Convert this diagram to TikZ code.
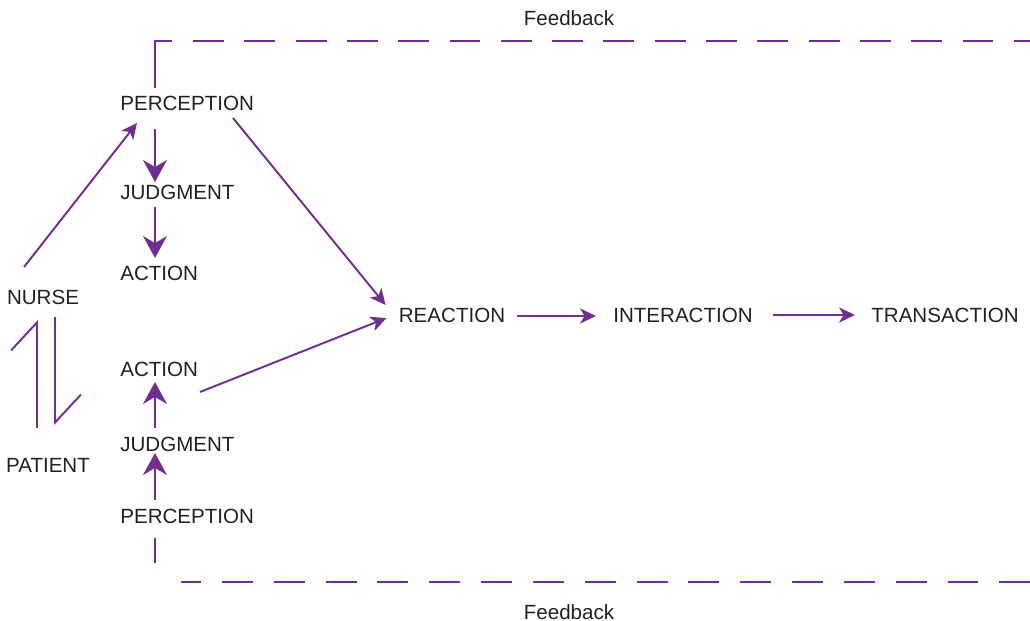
\documentclass[tikz,border=0pt]{standalone}
\usepackage{fontspec}
\setmainfont{Liberation Sans}
\usepackage{xcolor}
\usepackage{tikz}
\usetikzlibrary{arrows.meta,calc}

\definecolor{kingpurple}{RGB}{112,45,146}
\definecolor{kingtext}{RGB}{35,31,32}

\tikzset{
    label text/.style={inner sep=0pt, text=kingtext, font=\fontsize{11.7}{14}\selectfont},
    thin arrow/.style={draw=kingpurple, line width=1.1pt, -{Stealth[length=9pt, width=8.5pt, inset=2.5pt]}},
    thick arrow/.style={draw=kingpurple, line width=1.1pt, -{Stealth[length=12.5pt, width=13.6pt, inset=4pt]}},
    harpoon/.style={draw=kingpurple, line width=1.1pt, -{Straight Barb[left, length=15.9pt, width=29.5pt]}},
    fbline/.style={draw=kingpurple, line width=1.5pt}
}

\begin{document}
\begin{tikzpicture}[x=0.02cm, y=-0.02cm]
    \useasboundingbox (0,0) rectangle (1030,621);

    % Feedback labels
    \node[label text] (fbtop) at (569,18) {Feedback};
    \node[label text] (fbbot) at (569,612) {Feedback};

    % Nurse and patient
    \node[label text] (nurse) at (43,297) {NURSE};
    \node[label text] (patient) at (48,465) {PATIENT};

    % Nurse side
    \node[label text, anchor=west] (percA) at (120,103) {PERCEPTION};
    \node[label text, anchor=west] (judgA) at (120,192) {JUDGMENT};
    \node[label text, anchor=west] (actA) at (120,273) {ACTION};

    % Patient side
    \node[label text, anchor=west] (actB) at (120,369) {ACTION};
    \node[label text, anchor=west] (judgB) at (120,444) {JUDGMENT};
    \node[label text, anchor=west] (percB) at (120,516) {PERCEPTION};

    % Outcome chain
    \node[label text] (reaction) at (452,315) {REACTION};
    \node[label text] (interaction) at (683,315) {INTERACTION};
    \node[label text] (transaction) at (945,315) {TRANSACTION};

    % Feedback loop
    \draw[fbline] ($(percA.west)+(35,-15)$) -- (155,41) -- (172,41);
    \draw[fbline, dash pattern=on 17.6pt off 11.6pt] (193,41) -- (1030,41);
    \draw[fbline] ($(percB.west)+(35,22)$) -- (155,563);
    \draw[fbline, dash pattern=on 17.6pt off 11.9pt, dash phase=6.2pt] (181,582) -- (1030,582);

    % Harpoons between nurse and patient
    \draw[harpoon] ($(patient)+(-11,-37)$) -- ($(nurse)+(-6,23)$);
    \draw[harpoon] ($(nurse)+(12,20)$) -- ($(patient)+(7,-40)$);

    % Arrows
    \draw[thin arrow] ($(nurse)+(-19,-30)$) -- ($(percA.west)+(17,20)$);
    \draw[thick arrow] ($(percA.west)+(35,26)$) -- ($(judgA.west)+(35,-10)$);
    \draw[thick arrow] ($(judgA.west)+(35,15)$) -- ($(actA.west)+(35,-15)$);
    \draw[thick arrow] ($(percB.west)+(35,-16)$) -- ($(judgB.west)+(35,9)$);
    \draw[thick arrow] ($(judgB.west)+(35,-16)$) -- ($(actB.west)+(35,13)$);
    \draw[thin arrow] ($(percA.west)+(113,15)$) -- ($(reaction.west)+(-13,-10)$);
    \draw[thin arrow] ($(actB.west)+(80,23)$) -- ($(reaction.west)+(-12,3)$);
    \draw[thin arrow] ($(reaction.east)+(12,1)$) -- ($(interaction.west)+(-17,1)$);
    \draw[thin arrow] ($(interaction.east)+(20,0)$) -- ($(transaction.west)+(-16,0)$);
\end{tikzpicture}
\end{document}
